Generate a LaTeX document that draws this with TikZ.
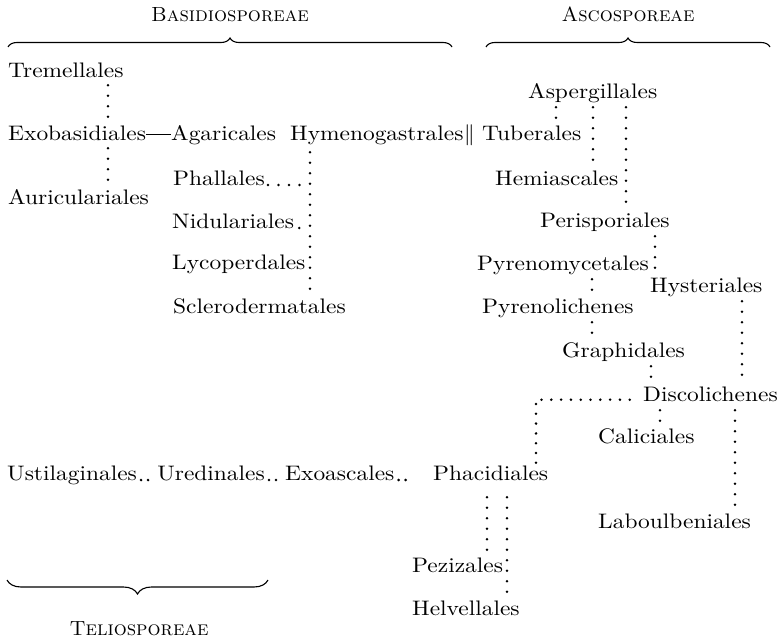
\documentclass[tikz,border=0pt]{standalone}
\usepackage{fontspec}
\newfontfamily\taxfont{lmroman10-regular}[Extension=.otf, FakeStretch=1.115]
\usetikzlibrary{decorations.pathreplacing}
\tikzset{taxon/.style={anchor=base west, inner sep=0pt, text height=17pt, text depth=6pt, font=\taxfont\fontsize{21}{25}\selectfont}}
\tikzset{group/.style={anchor=base, inner sep=0pt, font=\fontsize{20.5}{24}\selectfont\scshape}}
\tikzset{leader/.style={line width=2.8pt, line cap=round, dash pattern=on 0pt off 10.5pt}}
\tikzset{pair/.style={leader, dash pattern=on 0pt off 7pt, yshift=1.3pt}}
\tikzset{bracket/.style={decorate, decoration={brace, amplitude=9pt}, line width=1.1pt}}

\begin{document}
\begin{tikzpicture}[x=1pt,y=-1pt]
    \useasboundingbox (0,0) rectangle (783,642);
    % the three groups
    \node[group] (bas) at (230,22) {Basidiosporeae};
    \draw[bracket] (8,47) -- (452,47);
    \node[group] (asc) at (628,22) {Ascosporeae};
    \draw[bracket] (486,47) -- (770,47);
    \draw[bracket, decoration={amplitude=14pt}] (268,580) -- (7,580);
    \node[group] (tel) at (139,635) {Teliosporeae};
    % Basidiosporeae
    \node[taxon] (tre) at (8,77) {Tremellales};
    \node[taxon] (exo) at (8,140) {Exobasidiales};
    \node[taxon] (aur) at (8,204) {Auriculariales};
    \node[taxon] (aga) at (171,140) {Agaricales};
    \node[taxon] (hym) at (290,140) {Hymenogastrales\kern0.5pt|\kern-2.5pt|};
    \node[taxon] (pha) at (173,185) {Phallales};
    \node[taxon] (nid) at (172,228) {Nidulariales};
    \node[taxon] (lyc) at (172,269) {Lycoperdales};
    \node[taxon] (scl) at (173,313) {Sclerodermatales};
    % Ascosporeae
    \node[taxon] (tub) at (482,140) {Tuberales};
    \node[taxon] (asp) at (528,98) {Aspergillales};
    \node[taxon] (hem) at (495,185) {Hemiascales};
    \node[taxon] (per) at (540,227) {Perisporiales};
    \node[taxon] (pym) at (477,270) {Pyrenomycetales};
    \node[taxon] (hys) at (650,292) {Hysteriales};
    \node[taxon] (pyl) at (482,313) {Pyrenolichenes};
    \node[taxon] (gra) at (562,357) {Graphidales};
    \node[taxon] (dis) at (643,401) {Discolichenes};
    \node[taxon] (cal) at (598,443) {Caliciales};
    \node[taxon] (lab) at (598,528) {Laboulbeniales};
    \node[taxon] (phc) at (433,480) {Phacidiales};
    \node[taxon] (pez) at (412,572) {Pezizales};
    \node[taxon] (hel) at (412,615) {Helvellales};
    % Teliosporeae
    \node[taxon] (ust) at (7,480) {Ustilaginales};
    \node[taxon] (ure) at ([xshift=20pt]ust.base east) {Uredinales};
    \node[taxon] (exa) at ([xshift=20pt]ure.base east) {Exoascales};
    % columns of dots
    \coordinate (k1) at (108,0);
    \coordinate (k2) at (310,0);
    \coordinate (k3) at (556,0);
    \coordinate (k4) at (593,0);
    \coordinate (k5) at (626,0);
    \coordinate (k6) at (655,0);
    \coordinate (k7) at (592,0);
    \coordinate (k8) at (651,0);
    \coordinate (k9) at (742,0);
    \coordinate (k10) at (536,0);
    \coordinate (k11) at (660,0);
    \coordinate (k12) at (735,0);
    \coordinate (k13) at (487,0);
    \coordinate (k14) at (507,0);
    \draw[line width=1.3pt] ([yshift=5.5pt]exo.base east) -- ([yshift=5.5pt]aga.base west);
    \draw[leader, shorten <=2pt, shorten >=2pt] (tre.south -| k1) -- (exo.north -| k1);
    \draw[leader, shorten <=2pt, shorten >=2pt] (exo.south -| k1) -- (aur.north -| k1);
    \draw[leader, shorten <=6pt, shorten >=2pt] (hym.south -| k2) -- (scl.north -| k2);
    \draw[leader, yshift=1.3pt, shorten <=3pt, shorten >=6pt] (pha.base east) -- (pha.base -| k2);
    \draw[leader, yshift=1.3pt, shorten <=5pt, shorten >=3pt] (nid.base east) -- (nid.base -| k2);
    \draw[leader, shorten <=3pt, shorten >=2pt] (asp.south -| k3) -- (tub.north -| k3);
    \draw[leader, shorten <=3pt, shorten >=2pt] (asp.south -| k4) -- (hem.north -| k4);
    \draw[leader, shorten <=3pt, shorten >=2pt] (asp.south -| k5) -- (per.north -| k5);
    \draw[leader, shorten <=3pt, shorten >=2pt] (per.south -| k6) -- (hys.north -| k6);
    \draw[leader, shorten <=3pt, shorten >=2pt] (pym.south -| k7) -- (pyl.north -| k7);
    \draw[leader, shorten <=3pt, shorten >=2pt] (pyl.south -| k7) -- (gra.north -| k7);
    \draw[leader, shorten <=3pt, shorten >=2pt] (gra.south -| k8) -- (dis.north -| k8);
    \draw[leader, shorten <=3pt, shorten >=2pt] (hys.south -| k9) -- (dis.north -| k9);
    \draw[leader, dash pattern=on 0pt off 9.8pt, shorten >=8pt] (phc.north -| k10) |- ([yshift=1.3pt]dis.base west);
    \draw[leader, shorten <=3pt, shorten >=2pt] (dis.south -| k11) -- (cal.north -| k11);
    \draw[leader, shorten <=3pt, shorten >=2pt] (dis.south -| k12) -- (lab.north -| k12);
    \draw[leader, shorten <=11pt, shorten >=2pt] (phc.south -| k13) -- (pez.north -| k13);
    \draw[leader, shorten <=11pt, shorten >=2pt] (phc.south -| k14) -- (hel.north -| k14);
    \draw[pair, shorten <=4pt, shorten >=8pt] (ust.base east) -- (ure.base west);
    \draw[pair, shorten <=4pt, shorten >=8pt] (ure.base east) -- (exa.base west);
    \draw[pair, shorten <=4pt, shorten >=24pt] (exa.base east) -- (phc.base west);
\end{tikzpicture}
\end{document}
